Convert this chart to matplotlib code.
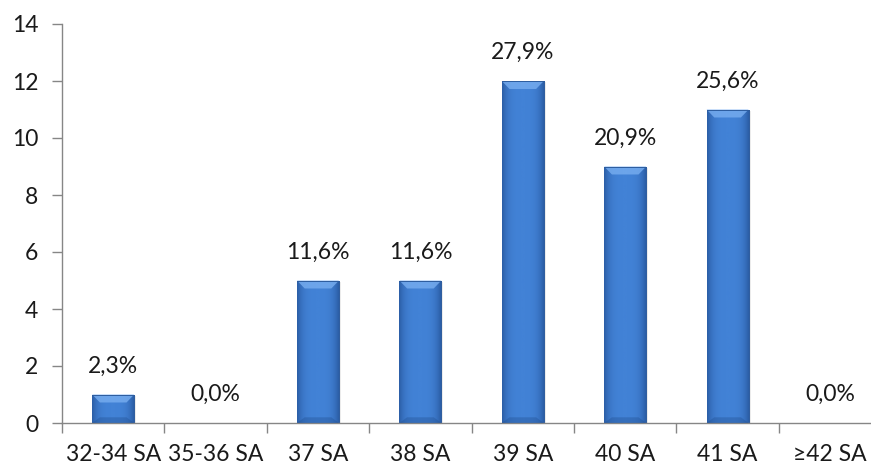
import numpy as np
import matplotlib
matplotlib.use("Agg")
import matplotlib.pyplot as plt

plt.rcParams['font.family'] = ['Lato', 'DejaVu Sans']

categories = ["32-34 SA", "35-36 SA", "37 SA", "38 SA", "39 SA", "40 SA", "41 SA", "\u226542 SA"]
counts = [1, 0, 5, 5, 12, 9, 11, 0]
y_ticks = [0, 2, 4, 6, 8, 10, 12, 14]

total = sum(counts)
pct_labels = [f"{c / total * 100:.1f}%".replace(".", ",") for c in counts]

fig = plt.figure(figsize=(8.71, 4.68), dpi=100)
ax = fig.add_axes([62 / 871, 45 / 468, 8 * 102.4 / 871, 399 / 468])

x = np.arange(len(categories))
bar_w = 0.41
bars = ax.bar(x, counts, width=bar_w, color="#3c7bd0", edgecolor="#2d5c9e", linewidth=0.7, zorder=2)

# shaded fill for each bar: darker at the sides, lighter in the middle
grad = np.linspace(-1, 1, 64)
shade = 1 - np.abs(grad) ** 3.5
cmap = matplotlib.colors.LinearSegmentedColormap.from_list("bev", ["#2b5ea6", "#4282d6"])
for b in bars:
    h = b.get_height()
    if h <= 0:
        continue
    x0 = b.get_x()
    # soft shadow on the right
    ax.bar(x0 + bar_w / 2 + 0.02, h, width=bar_w, bottom=-0.05, color="#c8c8c8",
           alpha=0.35, lw=0, zorder=1.5)
    im = ax.imshow(shade[None, :], cmap=cmap, aspect="auto",
                   extent=[x0, x0 + bar_w, 0, h], zorder=2.5, interpolation="bicubic")
    im.set_clip_path(b)
    # light bevel along the top edge
    bev = min(0.28, h * 0.3)
    ins = 0.075
    ax.fill([x0, x0 + bar_w, x0 + bar_w - ins, x0 + ins],
            [h, h, h - bev, h - bev], color="#78aef0", alpha=0.8, zorder=3, lw=0)
    # darker bevel along the bottom edge
    bb = min(0.2, h * 0.2)
    ax.fill([x0, x0 + bar_w, x0 + bar_w - ins, x0 + ins],
            [0, 0, bb, bb], color="#1f4c8c", alpha=0.35, zorder=3, lw=0)
    ax.plot([x0, x0 + bar_w], [h, h], color="#2d5c9e", lw=0.7, zorder=3.5)

for xi, c, lab in zip(x, counts, pct_labels):
    ax.text(xi, c + 0.62, lab, ha="center", va="bottom", fontsize=16.5, color="#1a1a1a")

ax.set_xlim(-0.5, len(categories) - 0.5)
ax.set_ylim(0, 14)
ax.set_yticks(y_ticks)
ax.set_yticklabels([str(v) for v in y_ticks])

ax.set_xticks(np.arange(len(categories) + 1) - 0.5)
ax.set_xticklabels([])
ax.set_xticks(x, minor=True)
ax.set_xticklabels(categories, minor=True)

axis_col = "#868686"
for s in ["top", "right"]:
    ax.spines[s].set_visible(False)
for s in ["left", "bottom"]:
    ax.spines[s].set_color(axis_col)
    ax.spines[s].set_linewidth(1.0)

ax.tick_params(axis="y", which="major", length=7, color=axis_col, width=1.0,
               labelsize=16.5, pad=10, labelcolor="#1a1a1a")
ax.tick_params(axis="x", which="major", length=7, color=axis_col, width=1.0)
ax.tick_params(axis="x", which="minor", length=0, labelsize=16.5, pad=15, labelcolor="#1a1a1a")

fig.savefig("out.png", dpi=100)
